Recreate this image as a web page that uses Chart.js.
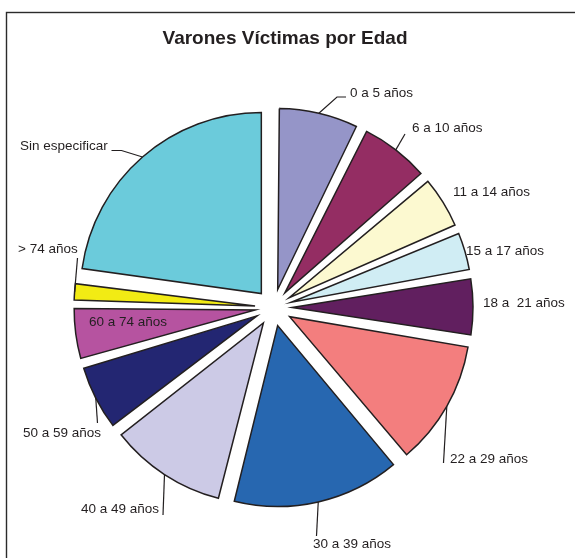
<!DOCTYPE html>
<html>
<head>
<meta charset="utf-8">
<script src="https://cdn.jsdelivr.net/npm/chart.js@4/dist/chart.umd.min.js"></script>
<style>
  html, body { margin: 0; padding: 0; background: #fff; }
  canvas { display: block; }
</style>
</head>
<body>
<canvas id="pieChartCanvas" width="575" height="558"></canvas>
<script>
// Data (share of victims, %)
const categories = ['0 a 5 años', '6 a 10 años', '11 a 14 años', '15 a 17 años', '18 a  21 años',
  '22 a 29 años', '30 a 39 años', '40 a 49 años', '50 a 59 años', '60 a 74 años', '> 74 años', 'Sin especificar'];
const shares = [7.3, 6.4, 4.9, 3.7, 5.3, 11.3, 15.0, 10.6, 6.0, 4.8, 1.9, 22.8];
const sliceColors = ['#9595C8', '#942D63', '#FCF9D0', '#D0EDF4', '#611F5F', '#F37E7E',
  '#2767B0', '#CCCAE6', '#232672', '#B653A0', '#F2EB14', '#6BCBDB'];

// Label placement (text left x, middle y) and leader bend points
const labelSpots = [[350, 93], [412, 128], [453, 192], [466, 251], [483, 303], [450, 459],
  [313, 544], [81, 509], [23, 433], [89, 322], [18, 249], [20, 146]];
const leaderBends = [
  [[337, 97], [346, 97]], [[405, 134]], [], [], [], [[443.5, 463]],
  [[316.5, 536]], [[163, 515]], [[97.5, 423]], [], [[77.5, 258]], [[121.5, 150.5], [111.5, 150.5]]
];

const RADIUS = 181;
const OFFSET = 74; // chart.js moves each slice by offset / 4

const piePlugin = {
  id: 'pieDecor',
  beforeDraw(chart) {
    const ctx = chart.ctx;
    ctx.save();
    ctx.fillStyle = '#fff';
    ctx.fillRect(0, 0, chart.width, chart.height);
    // frame
    ctx.strokeStyle = '#2b2b2b';
    ctx.lineWidth = 1.4;
    ctx.strokeRect(6.5, 12.5, 700, 700);
    // title
    ctx.fillStyle = '#231f20';
    ctx.font = 'bold 19px "Liberation Sans", Arial, sans-serif';
    ctx.textAlign = 'center';
    ctx.textBaseline = 'alphabetic';
    ctx.fillText('Varones Víctimas por Edad', 285, 44);
    ctx.restore();
  },
  beforeDatasetsDraw(chart) {
    // keep every slice the same radius (chart.js grows narrow exploded slices)
    chart.getDatasetMeta(0).data.forEach(arc => {
      const c = arc.endAngle - arc.startAngle;
      arc.outerRadius = RADIUS - (OFFSET / 4) * (1 - Math.sin(Math.min(Math.PI, c)));
    });
  },
  afterDatasetsDraw(chart) {
    const ctx = chart.ctx;
    const meta = chart.getDatasetMeta(0);
    ctx.save();
    ctx.strokeStyle = '#231f20';
    ctx.lineWidth = 1.2;
    ctx.fillStyle = '#231f20';
    ctx.font = '13.5px "Liberation Sans", Arial, sans-serif';
    ctx.textAlign = 'left';
    ctx.textBaseline = 'middle';
    meta.data.forEach((arc, i) => {
      const mid = (arc.startAngle + arc.endAngle) / 2;
      const cx = arc.x + Math.cos(mid) * OFFSET / 4;
      const cy = arc.y + Math.sin(mid) * OFFSET / 4;
      const bends = leaderBends[i];
      if (bends.length) {
        ctx.beginPath();
        ctx.moveTo(cx + Math.cos(mid) * RADIUS, cy + Math.sin(mid) * RADIUS);
        bends.forEach(p => ctx.lineTo(p[0], p[1]));
        ctx.stroke();
      }
      ctx.fillText(categories[i], labelSpots[i][0], labelSpots[i][1]);
    });
    ctx.restore();
  }
};

const pieChartCanvas = document.getElementById('pieChartCanvas').getContext('2d');
new Chart(pieChartCanvas, {
  type: 'pie',
  data: {
    labels: categories,
    datasets: [{
      data: shares,
      backgroundColor: sliceColors,
      borderColor: '#231f20',
      borderWidth: 1.5,
      borderJoinStyle: 'miter',
      offset: OFFSET
    }]
  },
  options: {
    responsive: false,
    animation: false,
    radius: RADIUS,
    layout: { padding: { left: 0, right: 28, top: 60, bottom: 3 } },
    plugins: {
      legend: { display: false },
      tooltip: { enabled: false },
      title: { display: false }
    }
  },
  plugins: [piePlugin]
});
</script>
</body>
</html>
